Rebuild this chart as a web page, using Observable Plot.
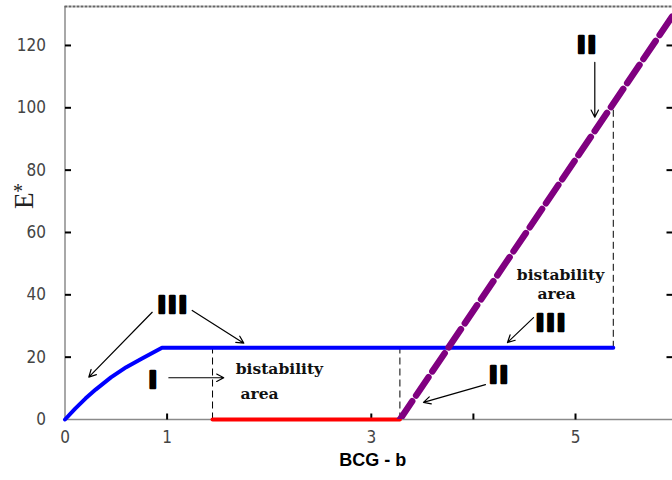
<!DOCTYPE html>
<html>
<head>
<meta charset="utf-8">
<script src="https://cdn.jsdelivr.net/npm/d3@7"></script>
<script src="https://cdn.jsdelivr.net/npm/@observablehq/plot@0.6"></script>
<style>
  html, body { margin: 0; padding: 0; background: #fff; }
  #chart { width: 672px; height: 480px; }
</style>
</head>
<body>
<div id="chart"></div>
<script>
// ---- data ----
const xDomain = [0, 5.95];
const yDomain = [0, 132.5];
const xTickMarks = [1, 3, 4, 5];
const xTickLabels = [0, 1, 3, 5];
const yTicks = [0, 20, 40, 60, 80, 100, 120];

// branch III (blue)
const blueX = [0, 0.1, 0.2, 0.3, 0.45, 0.6, 0.75, 0.95, 5.37];
const blueY = [0, 3.5, 6.7, 9.6, 13.5, 16.8, 19.5, 23, 23];
// branch I (red)
const redX = [1.445, 3.28];
const redY = [0, 0];
// branch II (purple dashed)
const purpleX = [3.28, 6.05];
const purpleY = [0, 134.3];
// bistability boundaries
const dashX = [1.445, 3.28, 5.37];
const dashY1 = [0, 0, 23];
const dashY2 = [23, 23, 100];

// annotations
const labelText = ["III", "I", "III", "II", "II"];
const labelX = [1.06, 0.87, 4.765, 4.255, 5.118];
const labelY = [36.6, 12.6, 30.9, 14.2, 119.8];

const noteText = ["bistability", "area", "bistability", "area"];
const noteX = [2.1, 1.905, 4.853, 4.814];
const noteY = [16.2, 8.2, 46.3, 40.2];

const arrowX1 = [0.854, 1.246, 1.017, 4.589, 4.118, 5.189];
const arrowY1 = [34.4, 35.0, 13.4, 32.7, 11.2, 114.6];
const arrowX2 = [0.233, 1.751, 1.555, 4.334, 3.511, 5.189];
const arrowY2 = [13.6, 24.5, 13.4, 24.7, 5.5, 97.0];

const xLabel = "BCG - b";
const yLabel = "E";
const yLabelSup = "*";

// ---- tables ----
const pts = (xs, ys) => xs.map((x, i) => ({x, y: ys[i]}));
const blue = pts(blueX, blueY);
const red = pts(redX, redY);
const purple = pts(purpleX, purpleY);
const dashes = dashX.map((x, i) => ({x, y1: dashY1[i], y2: dashY2[i]}));
const labels = labelText.map((t, i) => ({t, x: labelX[i], y: labelY[i]}));
const notes = noteText.map((t, i) => ({t, x: noteX[i], y: noteY[i]}));
const arrows = arrowX1.map((x1, i) => ({x1, y1: arrowY1[i], x2: arrowX2[i], y2: arrowY2[i]}));

const tickUp = {draw(ctx) { ctx.moveTo(0, 0); ctx.lineTo(0, -6); }};
const tickRight = {draw(ctx) { ctx.moveTo(0, 0); ctx.lineTo(6, 0); }};
const tickLeft = {draw(ctx) { ctx.moveTo(0, 0); ctx.lineTo(-6, 0); }};

const tickFont = "'Liberation Sans Narrow', 'DejaVu Sans Condensed', 'Liberation Sans', sans-serif";
const serif = "'DejaVu Serif', serif";

const chart = Plot.plot({
  width: 672,
  height: 480,
  marginLeft: 64.5,
  marginRight: 0,
  marginTop: 6,
  marginBottom: 61,
  x: {domain: xDomain},
  y: {domain: yDomain},
  style: {background: "#fff", color: "#000"},
  marks: [
    Plot.axisX(xTickLabels, {tickSize: 0, tickPadding: 11, fontSize: 17, fontFamily: tickFont, fill: "#444", label: null, tickFormat: d => String(d)}),
    Plot.axisY(yTicks, {tickSize: 0, tickPadding: 19, fontSize: 17, fontFamily: tickFont, fill: "#444", label: null, tickFormat: d => String(d)}),
    Plot.ruleX([xDomain[0]], {stroke: "#a8a8a8", strokeWidth: 2}),
    Plot.ruleY([yDomain[0]], {stroke: "#8a8a8a", strokeWidth: 1.5}),
    Plot.ruleY([yDomain[1]], {stroke: "#666", strokeWidth: 2, strokeDasharray: "3,1"}),
    Plot.dot(xTickMarks, {x: d => d, y: () => yDomain[0], symbol: tickUp, stroke: "#000", strokeWidth: 2, r: 3}),
    Plot.dot(yTicks.slice(1), {x: () => xDomain[0], y: d => d, symbol: tickRight, stroke: "#000", strokeWidth: 2, r: 3}),
    Plot.dot(yTicks.slice(1), {x: () => xDomain[1], y: d => d, symbol: tickLeft, stroke: "#000", strokeWidth: 2, r: 3}),
    Plot.link(dashes, {x1: "x", x2: "x", y1: "y1", y2: "y2", stroke: "#000", strokeWidth: 1, strokeDasharray: "7,4"}),
    Plot.line(red, {x: "x", y: "y", stroke: "#ff0000", strokeWidth: 4}),
    Plot.line(blue, {x: "x", y: "y", stroke: "#0000ff", strokeWidth: 4, curve: "linear", strokeLinejoin: "round"}),
    Plot.line(purple, {x: "x", y: "y", stroke: "#800080", strokeWidth: 6.5, strokeDasharray: "22,7", clip: true}),
    Plot.arrow(arrows, {x1: "x1", y1: "y1", x2: "x2", y2: "y2", stroke: "#000", strokeWidth: 1.2, headLength: 10, headAngle: 55}),
    Plot.text(labels, {x: "x", y: "y", text: "t", fontSize: 23, fontWeight: "bold", fontFamily: "'DejaVu Sans', sans-serif", fill: "#000", stroke: "#000", strokeWidth: 2.5}),
    Plot.text(notes, {x: "x", y: "y", text: "t", fontSize: 15.5, fontWeight: "bold", fontFamily: serif, fill: "#111"}),
    Plot.text([xLabel], {text: d => d, frameAnchor: "bottom", dx: 4, dy: 46, fontSize: 18, fontWeight: "bold", fontFamily: "'Liberation Sans', Arial, sans-serif", fill: "#000"}),
    Plot.text([yLabel], {text: d => d, frameAnchor: "left", dx: -40.5, dy: -4, rotate: -90, fontSize: 27, fontFamily: "'Liberation Serif', serif", fill: "#222"}),
    Plot.text([yLabelSup], {text: d => d, frameAnchor: "left", dx: -52, dy: -21, fontSize: 20, fontFamily: "'Liberation Serif', serif", fill: "#222"})
  ]
});

d3.select(chart).selectAll("text").filter(function() { return /^I+$/.test(this.textContent); })
  .attr("letter-spacing", "2px");
document.getElementById("chart").appendChild(chart);
</script>
</body>
</html>
